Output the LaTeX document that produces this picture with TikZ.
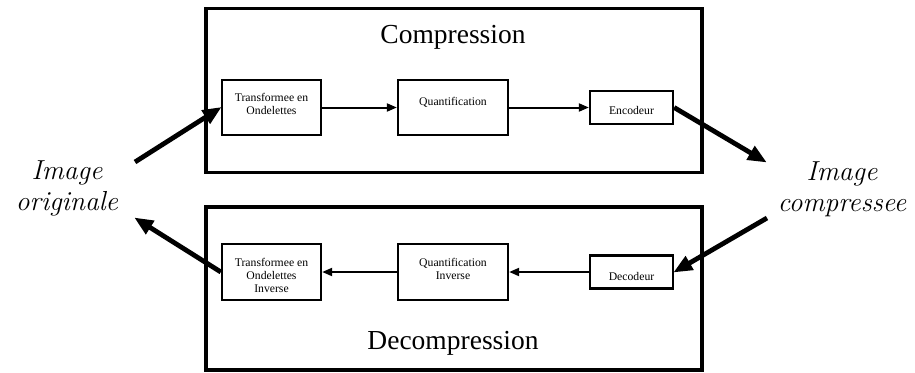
\documentclass[tikz,border=0pt]{standalone}
\usepackage{fontspec}
\setmainfont{Liberation Serif}
\newfontfamily\imgfam{Latin Modern Roman}
\usetikzlibrary{arrows.meta}
\tikzset{
  frame/.style={draw, line width=3.2pt, inner sep=0pt},
  blk/.style={draw, line width=2.3pt, inner sep=0pt},
  txt/.style={font=\fontsize{11.7}{13}\selectfont, align=center, inner sep=0pt},
  title/.style={font=\fontsize{27.5}{30}\selectfont, inner sep=0pt},
  imglbl/.style={font=\imgfam\itshape\fontsize{27.5}{31}\selectfont, align=center, inner sep=0pt},
  thin/.style={line width=2pt, -{Triangle[length=10pt,width=8pt]}},
  thick/.style={line width=4.8pt, -{Triangle[length=19pt,width=15pt]}, shorten >=-1pt}
}
\begin{document}
\begin{tikzpicture}[x=1pt,y=-1pt]
\useasboundingbox (0,0) rectangle (915,372);
% frames
\node[frame, minimum width=496pt, minimum height=164pt] (top) at (454,90.5) {};
\node[frame, minimum width=496pt, minimum height=163pt] (bot) at (454,288.5) {};
\node[title] (tc) at (453,37) {Compression};
\node[title] (dc) at (453,343) {Decompression};
% top row
\node[blk, minimum width=99pt, minimum height=55pt] (t1) at (271.5,107.5) {};
\node[txt] (t1t) at (271.5,104) {Transformee en\\Ondelettes};
\node[blk, minimum width=110pt, minimum height=55pt] (q1) at (453,107.5) {};
\node[txt] (q1t) at (453,102) {Quantification};
\node[blk, minimum width=83pt, minimum height=33pt] (e1) at (631.5,107.5) {};
\node[txt] (e1t) at (631.5,110) {Encodeur};
\draw[thin] (t1.east) -- (q1.west);
\draw[thin] (q1.east) -- (e1.west);
% bottom row
\node[blk, minimum width=99pt, minimum height=56pt] (t2) at (271.5,272) {};
\node[txt] (t2t) at (271.5,275) {Transformee en\\Ondelettes\\Inverse};
\node[blk, minimum width=110pt, minimum height=56pt] (q2) at (453,272) {};
\node[txt] (q2t) at (453,268.5) {Quantification\\Inverse};
\node[blk, minimum width=83pt, minimum height=33pt] (d2) at (631.5,272) {};
\node[txt] (d2t) at (631.5,276) {Decodeur};
\draw[thin] (d2.west) -- (q2.east);
\draw[thin] (q2.west) -- (t2.east);
% labels
\node[imglbl] (io) at (67,188) {Image\\originale};
\node[imglbl] (ic) at (842,189) {Image\\compressee};
\coordinate (a1s) at (135,162);
\coordinate (a2e) at (766,162);
\coordinate (a3s) at (767,218);
\coordinate (a4e) at (135,218);
\draw[thick] (a1s) -- (t1.west);
\draw[thick] (e1.east) -- (a2e);
\draw[thick] (a3s) -- (d2.east);
\draw[thick] (t2.west) -- (a4e);
\end{tikzpicture}
\end{document}
